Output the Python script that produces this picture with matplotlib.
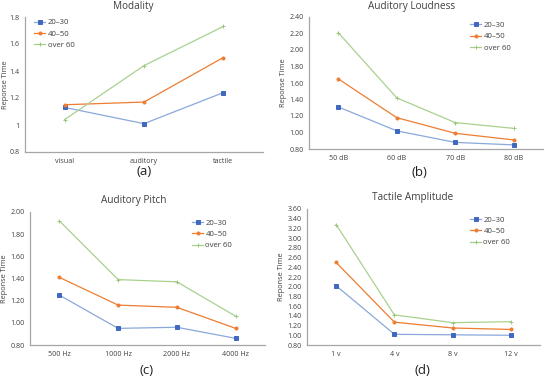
import matplotlib
matplotlib.use("Agg")
import matplotlib.pyplot as plt
from matplotlib.ticker import FixedLocator, FuncFormatter

plt.rcParams['font.family'] = ['Open Sans', 'DejaVu Sans']

series_names = ["20\u201330", "40\u201350", "over 60"]

mod_cats = ["visual", "auditory", "tactile"]
mod_2030 = [1.13, 1.01, 1.24]
mod_4050 = [1.15, 1.17, 1.50]
mod_60 = [1.04, 1.44, 1.73]

loud_cats = ["50 dB", "60 dB", "70 dB", "80 dB"]
loud_2030 = [1.31, 1.02, 0.88, 0.85]
loud_4050 = [1.65, 1.18, 0.99, 0.91]
loud_60 = [2.21, 1.42, 1.12, 1.05]

pitch_cats = ["500 Hz", "1000 Hz", "2000 Hz", "4000 Hz"]
pitch_2030 = [1.25, 0.95, 0.96, 0.86]
pitch_4050 = [1.41, 1.16, 1.14, 0.95]
pitch_60 = [1.92, 1.39, 1.37, 1.06]

amp_cats = ["1 v", "4 v", "8 v", "12 v"]
amp_2030 = [2.02, 1.02, 1.01, 1.00]
amp_4050 = [2.50, 1.27, 1.15, 1.12]
amp_60 = [3.28, 1.42, 1.26, 1.28]

line_colors = ["#8AA8DC", "#ED7D31", "#A9D18E"]
marker_colors = ["#3F68C0", "#ED7D31", "#9CC67F"]
markers = ["s", "o", "+"]
msizes = [2.3, 2.2, 2.6]

fig = plt.figure(figsize=(5.5, 3.76), dpi=100)
W, H = 550.0, 376.0

def ax_at(l, t, r, b):
    return fig.add_axes([l / W, 1 - b / H, (r - l) / W, (b - t) / H])

panels = [
    dict(box=(25, 17, 263, 152), cats=mod_cats, data=[mod_2030, mod_4050, mod_60],
         ylim=(0.8, 1.8), step=0.2, fmt="g", title="Modality", tpos=(133, 7),
         label="(a)", lpos=(144, 172), leg="upper left", legpos=(0.02, 1.02), ylx=-0.068),
    dict(box=(309, 17, 543, 149), cats=loud_cats, data=[loud_2030, loud_4050, loud_60],
         ylim=(0.8, 2.4), step=0.2, fmt="2f", title="Auditory Loudness", tpos=(412, 7),
         label="(b)", lpos=(419, 173), leg="upper left", legpos=(0.67, 1.0), ylx=-0.095),
    dict(box=(30, 212, 265, 345), cats=pitch_cats, data=[pitch_2030, pitch_4050, pitch_60],
         ylim=(0.8, 2.0), step=0.2, fmt="2f", title="Auditory Pitch", tpos=(134, 201),
         label="(c)", lpos=(147, 370), leg="upper left", legpos=(0.67, 0.98), ylx=-0.095),
    dict(box=(307, 209, 540, 345), cats=amp_cats, data=[amp_2030, amp_4050, amp_60],
         ylim=(0.8, 3.6), step=0.2, fmt="2f", title="Tactile Amplitude", tpos=(413, 198),
         label="(d)", lpos=(422, 370), leg="upper left", legpos=(0.68, 0.98), ylx=-0.095),
]

for p in panels:
    ax = ax_at(*p["box"])
    x = list(range(len(p["cats"])))
    for i, vals in enumerate(p["data"]):
        ax.plot(x, vals, color=line_colors[i], lw=0.9, marker=markers[i],
                markersize=msizes[i], markerfacecolor=marker_colors[i],
                markeredgecolor=marker_colors[i], markeredgewidth=0.7,
                label=series_names[i])
    ax.set_xlim(-0.5, len(x) - 0.5)
    lo, hi = p["ylim"]
    ax.set_ylim(lo, hi)
    n = int(round((hi - lo) / p["step"]))
    ticks = [lo + k * p["step"] for k in range(n + 1)]
    ax.yaxis.set_major_locator(FixedLocator(ticks))
    if p["fmt"] == "g":
        ax.yaxis.set_major_formatter(FuncFormatter(lambda v, pos: f"{v:.1f}".rstrip("0").rstrip(".")))
    else:
        ax.yaxis.set_major_formatter(FuncFormatter(lambda v, pos: f"{v:.2f}"))
    ax.set_xticks(x)
    ax.set_xticklabels(p["cats"])
    ax.tick_params(axis="both", length=0, labelsize=5.1, colors="#404040", pad=4)
    for s in ["top", "right"]:
        ax.spines[s].set_visible(False)
    for s in ["left", "bottom"]:
        ax.spines[s].set_color("#A6A6A6")
        ax.spines[s].set_linewidth(0.9)
    ax.set_ylabel("Reponse Time", fontsize=5.3, color="#404040")
    ax.yaxis.set_label_coords(p["ylx"], 0.5)
    ax.set_facecolor("none")
    leg = ax.legend(loc=p["leg"], bbox_to_anchor=p["legpos"], frameon=False,
                    fontsize=5.6, handlelength=1.4, handletextpad=0.3,
                    labelspacing=0.5, borderaxespad=0.2)
    for t in leg.get_texts():
        t.set_color("#404040")
    fig.text(p["tpos"][0] / W, 1 - p["tpos"][1] / H, p["title"], ha="center",
             va="center", fontsize=7.2, color="#404040")
    fig.text(p["lpos"][0] / W, 1 - p["lpos"][1] / H, p["label"], ha="center",
             va="center", fontsize=9.5, color="#202020")

fig.savefig("out.png", dpi=100)
